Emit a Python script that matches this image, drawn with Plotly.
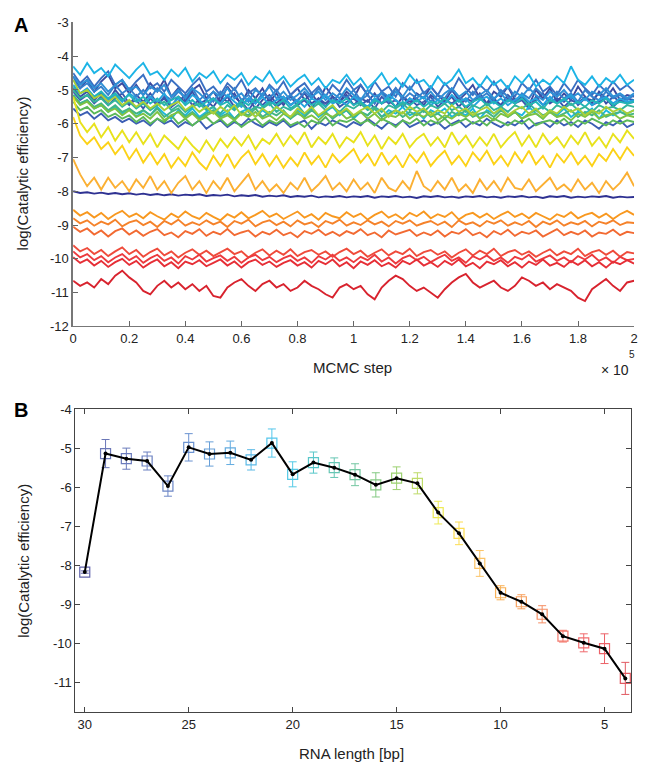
import plotly.graph_objects as go

# ---------------- data ----------------
lengths = [30, 29, 28, 27, 26, 25, 24, 23, 22, 21, 20, 19, 18, 17, 16, 15, 14, 13, 12, 11, 10, 9, 8, 7, 6, 5, 4]
b_mean = [-8.17, -5.14, -5.27, -5.33, -5.97, -4.98, -5.15, -5.12, -5.30, -4.87, -5.67, -5.37, -5.50, -5.68,
          -5.94, -5.77, -5.90, -6.65, -7.18, -7.95, -8.70, -8.93, -9.25, -9.81, -9.98, -10.13, -10.89]
b_err = [0.03, 0.36, 0.27, 0.23, 0.26, 0.35, 0.31, 0.30, 0.26, 0.36, 0.32, 0.27, 0.25, 0.28,
         0.31, 0.29, 0.27, 0.29, 0.29, 0.33, 0.18, 0.18, 0.22, 0.15, 0.23, 0.38, 0.41]
colors = ['#2e3192', '#3a4aa0', '#3a50a6', '#3b57ad', '#3c5fb4', '#3a6fc2', '#3680cc', '#2f90d6', '#25a3de',
          '#1cb4e6', '#1bb8de', '#22b5b8', '#34b49b', '#45b583', '#5bb85a', '#7cc242', '#a9cf38', '#e8e21c',
          '#fcd217', '#fbb033', '#f8981f', '#f5822a', '#f26a32', '#ef4b3b', '#ec3a3e', '#e62e36', '#d8232e']

mcmc_steps = [0, 2500, 5000, 7500, 10000, 12500, 15000, 17500, 20000, 22500,
              25000, 27500, 30000, 32500, 35000, 37500, 40000, 42500, 45000, 47500,
              50000, 52500, 55000, 57500, 60000, 62500, 65000, 67500, 70000, 72500,
              75000, 77500, 80000, 82500, 85000, 87500, 90000, 92500, 95000, 97500,
              100000, 102500, 105000, 107500, 110000, 112500, 115000, 117500, 120000, 122500,
              125000, 127500, 130000, 132500, 135000, 137500, 140000, 142500, 145000, 147500,
              150000, 152500, 155000, 157500, 160000, 162500, 165000, 167500, 170000, 172500,
              175000, 177500, 180000, 182500, 185000, 187500, 190000, 192500, 195000, 197500,
              200000]

trace_30 = [-8.00,-8.05,-8.03,-8.07,-8.04,-8.08,-8.05,-8.09,-8.06,-8.10,
            -8.07,-8.11,-8.08,-8.12,-8.09,-8.13,-8.10,-8.12,-8.09,-8.14,
            -8.11,-8.13,-8.10,-8.15,-8.12,-8.14,-8.11,-8.16,-8.13,-8.15,
            -8.12,-8.17,-8.14,-8.16,-8.13,-8.18,-8.15,-8.17,-8.14,-8.18,
            -8.15,-8.17,-8.14,-8.19,-8.15,-8.17,-8.14,-8.18,-8.16,-8.20,
            -8.15,-8.17,-8.14,-8.18,-8.16,-8.19,-8.15,-8.17,-8.14,-8.18,
            -8.16,-8.19,-8.15,-8.17,-8.14,-8.18,-8.16,-8.20,-8.15,-8.17,
            -8.14,-8.19,-8.16,-8.18,-8.15,-8.17,-8.14,-8.19,-8.16,-8.18,-8.17]
trace_29 = [-4.60,-4.95,-4.70,-5.05,-4.75,-4.55,-4.95,-4.80,-5.10,-4.85,
            -5.15,-4.80,-5.05,-4.70,-5.20,-4.95,-5.30,-5.00,-4.85,-5.25,
            -5.05,-5.35,-4.90,-5.20,-5.40,-5.00,-5.25,-4.95,-5.35,-5.10,
            -5.45,-5.15,-4.95,-5.30,-5.10,-5.40,-4.90,-5.20,-5.35,-5.05,
            -5.25,-4.85,-5.15,-5.40,-5.05,-5.30,-4.95,-5.20,-5.45,-5.10,
            -5.25,-4.90,-5.15,-5.35,-5.00,-5.30,-5.10,-4.85,-5.25,-5.40,
            -5.05,-5.20,-4.90,-5.30,-5.15,-5.45,-5.00,-5.25,-4.95,-5.35,
            -5.10,-5.30,-4.90,-5.20,-5.40,-5.05,-5.25,-4.95,-5.30,-5.15,-5.20]
trace_28 = [-4.95,-5.20,-5.05,-5.30,-5.10,-5.35,-5.00,-5.25,-5.45,-5.15,
            -5.35,-5.10,-5.40,-5.25,-5.50,-5.20,-5.35,-5.05,-5.40,-5.30,
            -5.50,-5.20,-5.35,-5.10,-5.45,-5.25,-5.55,-5.30,-5.15,-5.40,
            -5.20,-5.45,-5.30,-5.10,-5.40,-5.25,-5.50,-5.20,-5.35,-5.15,
            -5.45,-5.25,-5.35,-5.10,-5.40,-5.30,-5.50,-5.20,-5.35,-5.25,
            -5.45,-5.15,-5.30,-5.40,-5.20,-5.50,-5.25,-5.35,-5.10,-5.40,
            -5.25,-5.45,-5.15,-5.35,-5.20,-5.50,-5.30,-5.10,-5.40,-5.25,
            -5.35,-5.15,-5.45,-5.25,-5.30,-5.10,-5.40,-5.20,-5.35,-5.25,-5.30]
trace_27 = [-5.05,-5.30,-5.15,-5.40,-5.20,-5.45,-5.25,-5.10,-5.40,-5.30,
            -5.55,-5.25,-5.45,-5.20,-5.50,-5.35,-5.15,-5.45,-5.30,-5.55,
            -5.25,-5.40,-5.20,-5.50,-5.35,-5.60,-5.30,-5.45,-5.25,-5.50,
            -5.35,-5.20,-5.45,-5.30,-5.55,-5.25,-5.40,-5.20,-5.50,-5.35,
            -5.25,-5.45,-5.30,-5.55,-5.20,-5.40,-5.30,-5.50,-5.25,-5.45,
            -5.35,-5.20,-5.50,-5.30,-5.40,-5.25,-5.55,-5.35,-5.20,-5.45,
            -5.30,-5.50,-5.25,-5.40,-5.30,-5.55,-5.20,-5.45,-5.35,-5.25,
            -5.50,-5.30,-5.40,-5.20,-5.45,-5.35,-5.25,-5.50,-5.30,-5.40,-5.35]
trace_26 = [-5.55,-5.75,-5.65,-5.85,-5.70,-5.90,-5.80,-5.95,-5.85,-6.00,
            -5.90,-6.05,-5.85,-6.00,-5.90,-6.10,-5.95,-6.05,-5.90,-6.15,
            -6.00,-5.90,-6.10,-5.95,-6.05,-5.85,-6.00,-6.10,-5.95,-6.05,
            -5.90,-6.10,-6.00,-5.90,-6.15,-5.95,-6.05,-5.90,-6.00,-6.10,
            -5.95,-6.05,-5.85,-6.00,-6.15,-5.95,-6.05,-5.90,-6.10,-6.00,
            -5.90,-6.05,-5.95,-6.15,-6.00,-5.90,-6.10,-5.95,-6.05,-5.85,
            -6.00,-6.10,-5.95,-6.05,-5.90,-6.15,-6.00,-5.95,-6.10,-5.90,
            -6.05,-5.95,-6.10,-5.90,-6.00,-6.15,-5.95,-6.05,-5.90,-6.10,-6.00]
trace_25 = [-4.50,-4.80,-4.60,-4.90,-4.65,-4.45,-4.85,-4.70,-5.00,-4.75,
            -4.55,-4.95,-4.80,-5.05,-4.70,-4.90,-5.10,-4.85,-4.65,-5.05,
            -4.90,-5.15,-4.80,-5.00,-4.70,-5.10,-4.95,-5.20,-4.85,-5.05,
            -4.75,-5.15,-4.95,-4.80,-5.10,-4.90,-5.20,-4.85,-5.05,-4.70,
            -5.00,-4.85,-5.15,-4.75,-5.05,-4.90,-5.20,-4.80,-5.00,-4.70,
            -5.10,-4.90,-5.15,-4.80,-5.05,-4.65,-4.95,-5.15,-4.85,-5.05,
            -4.75,-5.10,-4.90,-5.20,-4.80,-5.00,-4.70,-5.05,-4.90,-5.15,
            -4.80,-5.05,-4.70,-4.95,-5.15,-4.85,-5.05,-4.75,-5.00,-4.85,-5.05]
trace_24 = [-4.70,-4.95,-4.80,-5.05,-4.90,-5.15,-4.85,-5.10,-4.95,-5.20,
            -5.00,-5.25,-4.95,-5.15,-5.30,-5.05,-5.20,-4.95,-5.30,-5.10,
            -5.35,-5.05,-5.20,-4.95,-5.30,-5.15,-5.40,-5.10,-5.25,-5.00,
            -5.30,-5.15,-5.35,-5.05,-5.25,-4.95,-5.20,-5.35,-5.10,-5.25,
            -5.00,-5.30,-5.15,-5.40,-5.05,-5.20,-4.95,-5.30,-5.10,-5.25,
            -5.05,-5.35,-5.15,-5.25,-4.95,-5.20,-5.35,-5.05,-5.25,-5.10,
            -5.30,-5.00,-5.20,-5.40,-5.10,-5.25,-4.95,-5.15,-5.30,-5.05,
            -5.25,-5.10,-5.35,-5.00,-5.20,-5.30,-5.05,-5.25,-5.15,-5.30,-5.15]
trace_23 = [-4.60,-4.85,-4.70,-4.95,-4.80,-5.05,-4.85,-4.70,-5.00,-4.90,
            -5.15,-4.90,-5.05,-4.85,-5.20,-5.00,-5.25,-4.95,-5.10,-5.30,
            -5.05,-5.20,-4.95,-5.25,-5.10,-5.35,-5.00,-5.15,-4.90,-5.25,
            -5.05,-5.30,-5.15,-4.95,-5.20,-5.05,-5.30,-5.10,-5.25,-4.95,
            -5.15,-5.30,-5.00,-5.20,-5.10,-5.35,-5.05,-5.20,-4.90,-5.15,
            -5.25,-5.05,-5.30,-5.10,-4.95,-5.20,-5.05,-5.30,-5.15,-5.00,
            -5.25,-5.10,-5.35,-5.05,-5.20,-4.95,-5.15,-5.30,-5.05,-5.20,
            -5.00,-5.25,-5.10,-5.30,-5.05,-5.15,-4.95,-5.20,-5.10,-5.25,-5.10]
trace_22 = [-4.85,-5.10,-4.95,-5.20,-5.05,-5.30,-5.15,-5.35,-5.10,-5.25,
            -5.40,-5.20,-5.35,-5.10,-5.45,-5.25,-5.40,-5.15,-5.30,-5.50,
            -5.25,-5.40,-5.15,-5.35,-5.50,-5.25,-5.40,-5.20,-5.45,-5.30,
            -5.20,-5.45,-5.30,-5.50,-5.25,-5.35,-5.15,-5.40,-5.30,-5.45,
            -5.20,-5.35,-5.50,-5.25,-5.40,-5.15,-5.30,-5.45,-5.25,-5.35,
            -5.20,-5.45,-5.30,-5.40,-5.15,-5.35,-5.25,-5.50,-5.30,-5.20,
            -5.40,-5.25,-5.45,-5.30,-5.15,-5.35,-5.25,-5.45,-5.20,-5.40,
            -5.30,-5.15,-5.40,-5.25,-5.45,-5.30,-5.20,-5.40,-5.25,-5.35,-5.30]
trace_21 = [-4.30,-4.55,-4.20,-4.50,-4.35,-4.60,-4.25,-4.45,-4.65,-4.40,
            -4.20,-4.55,-4.45,-4.70,-4.40,-4.60,-4.35,-4.75,-4.50,-4.65,
            -4.45,-4.80,-4.55,-4.70,-4.50,-4.85,-4.60,-4.75,-4.45,-4.80,
            -4.60,-4.90,-4.70,-4.55,-4.85,-4.65,-4.95,-4.70,-4.80,-4.55,
            -4.85,-4.65,-4.95,-4.75,-4.50,-4.85,-4.65,-4.90,-4.55,-4.80,
            -4.70,-4.95,-4.60,-4.85,-4.70,-4.40,-4.80,-4.65,-4.90,-4.60,
            -4.85,-4.70,-4.95,-4.60,-4.80,-4.55,-4.90,-4.70,-4.85,-4.60,
            -4.80,-4.30,-4.70,-4.85,-4.60,-4.90,-4.65,-4.80,-4.55,-4.85,-4.70]
trace_20 = [-5.15,-5.40,-5.30,-5.55,-5.45,-5.65,-5.50,-5.70,-5.55,-5.80,
            -5.60,-5.75,-5.50,-5.70,-5.85,-5.60,-5.75,-5.55,-5.80,-5.65,
            -5.50,-5.75,-5.60,-5.85,-5.65,-5.55,-5.80,-5.60,-5.75,-5.50,
            -5.70,-5.85,-5.60,-5.75,-5.55,-5.80,-5.65,-5.50,-5.75,-5.60,
            -5.85,-5.65,-5.75,-5.55,-5.80,-5.60,-5.70,-5.50,-5.75,-5.65,
            -5.85,-5.60,-5.70,-5.55,-5.80,-5.65,-5.75,-5.55,-5.85,-5.60,
            -5.70,-5.55,-5.80,-5.65,-5.75,-5.50,-5.70,-5.85,-5.60,-5.75,
            -5.55,-5.80,-5.65,-5.70,-5.55,-5.85,-5.60,-5.75,-5.65,-5.70,-5.60]
trace_19 = [-4.90,-5.10,-5.00,-5.20,-5.05,-5.25,-5.10,-5.30,-5.15,-5.35,
            -5.20,-5.40,-5.25,-5.45,-5.30,-5.20,-5.45,-5.30,-5.50,-5.35,
            -5.25,-5.45,-5.35,-5.55,-5.30,-5.45,-5.25,-5.50,-5.35,-5.45,
            -5.30,-5.55,-5.40,-5.25,-5.45,-5.35,-5.50,-5.30,-5.40,-5.25,
            -5.45,-5.35,-5.55,-5.30,-5.40,-5.25,-5.50,-5.35,-5.45,-5.30,
            -5.50,-5.35,-5.40,-5.25,-5.45,-5.30,-5.50,-5.35,-5.25,-5.45,
            -5.35,-5.50,-5.30,-5.40,-5.25,-5.45,-5.35,-5.55,-5.30,-5.40,
            -5.25,-5.45,-5.35,-5.50,-5.30,-5.40,-5.25,-5.45,-5.35,-5.40,-5.35]
trace_18 = [-5.00,-5.25,-5.15,-5.35,-5.25,-5.45,-5.30,-5.50,-5.35,-5.55,
            -5.40,-5.60,-5.45,-5.35,-5.60,-5.45,-5.65,-5.50,-5.40,-5.60,
            -5.50,-5.70,-5.45,-5.60,-5.40,-5.65,-5.50,-5.55,-5.40,-5.65,
            -5.50,-5.60,-5.45,-5.70,-5.55,-5.40,-5.60,-5.50,-5.65,-5.45,
            -5.55,-5.40,-5.60,-5.50,-5.65,-5.45,-5.55,-5.40,-5.60,-5.50,
            -5.65,-5.45,-5.55,-5.40,-5.60,-5.50,-5.65,-5.45,-5.55,-5.40,
            -5.60,-5.50,-5.65,-5.45,-5.55,-5.40,-5.60,-5.50,-5.65,-5.45,
            -5.55,-5.40,-5.60,-5.50,-5.65,-5.45,-5.55,-5.50,-5.60,-5.45,-5.50]
trace_17 = [-5.15,-5.40,-5.30,-5.50,-5.40,-5.60,-5.45,-5.65,-5.55,-5.70,
            -5.60,-5.75,-5.55,-5.80,-5.65,-5.55,-5.80,-5.65,-5.85,-5.70,
            -5.60,-5.80,-5.70,-5.85,-5.65,-5.75,-5.55,-5.80,-5.65,-5.75,
            -5.60,-5.85,-5.70,-5.80,-5.60,-5.75,-5.65,-5.85,-5.70,-5.60,
            -5.80,-5.65,-5.75,-5.55,-5.80,-5.70,-5.60,-5.80,-5.65,-5.75,
            -5.60,-5.80,-5.70,-5.85,-5.65,-5.75,-5.60,-5.80,-5.70,-5.65,
            -5.80,-5.60,-5.75,-5.65,-5.85,-5.70,-5.60,-5.75,-5.65,-5.80,
            -5.70,-5.60,-5.80,-5.65,-5.75,-5.60,-5.80,-5.70,-5.65,-5.75,-5.70]
trace_16 = [-5.35,-5.60,-5.50,-5.70,-5.60,-5.80,-5.70,-5.85,-5.75,-5.95,
            -5.80,-6.00,-5.85,-5.95,-5.75,-6.00,-5.85,-6.05,-5.90,-5.80,
            -6.00,-5.85,-6.05,-5.90,-6.10,-5.95,-5.85,-6.05,-5.90,-6.00,
            -5.85,-6.05,-5.95,-6.10,-5.90,-6.00,-5.80,-6.05,-5.90,-5.95,
            -5.85,-6.00,-5.90,-6.05,-5.85,-5.95,-6.10,-5.90,-6.00,-5.85,
            -6.05,-5.90,-6.00,-5.85,-6.05,-5.95,-5.85,-6.00,-5.90,-6.05,
            -5.85,-5.95,-6.05,-5.90,-6.00,-5.85,-6.05,-5.95,-5.90,-6.00,
            -5.85,-6.05,-5.90,-6.00,-5.85,-5.95,-6.05,-5.90,-6.00,-5.90,-5.95]
trace_15 = [-5.20,-5.45,-5.35,-5.55,-5.45,-5.65,-5.55,-5.75,-5.60,-5.80,
            -5.70,-5.85,-5.65,-5.90,-5.75,-5.65,-5.85,-5.70,-5.90,-5.75,
            -5.65,-5.85,-5.75,-5.90,-5.70,-5.80,-5.65,-5.85,-5.75,-5.90,
            -5.70,-5.80,-5.65,-5.85,-5.75,-5.90,-5.70,-5.80,-5.65,-5.85,
            -5.75,-5.65,-5.85,-5.70,-5.90,-5.75,-5.80,-5.65,-5.85,-5.70,
            -5.80,-5.65,-5.90,-5.75,-5.85,-5.70,-5.80,-5.65,-5.85,-5.75,
            -5.90,-5.70,-5.80,-5.65,-5.85,-5.75,-5.70,-5.85,-5.65,-5.80,
            -5.75,-5.90,-5.70,-5.80,-5.65,-5.85,-5.75,-5.70,-5.85,-5.75,-5.80]
trace_14 = [-4.70,-5.10,-5.00,-5.25,-5.15,-5.35,-5.20,-5.45,-5.30,-5.50,
            -5.35,-5.55,-5.40,-5.60,-5.45,-5.35,-5.60,-5.45,-5.65,-5.50,
            -5.70,-5.50,-5.65,-5.45,-5.75,-5.60,-5.80,-5.55,-5.70,-5.50,
            -5.65,-5.80,-5.55,-5.70,-5.50,-5.75,-5.60,-5.45,-5.70,-5.55,
            -5.75,-5.60,-5.50,-5.70,-5.55,-5.80,-5.60,-5.70,-5.50,-5.65,
            -5.55,-5.75,-5.60,-5.70,-5.45,-5.65,-5.55,-5.75,-5.60,-5.50,
            -5.70,-5.55,-5.75,-5.60,-5.50,-5.70,-5.55,-5.80,-5.60,-5.70,
            -5.50,-5.65,-5.55,-5.75,-5.60,-5.70,-5.50,-5.65,-5.55,-5.70,-5.60]
trace_13 = [-5.20,-5.95,-6.25,-6.00,-6.40,-6.10,-6.50,-6.20,-6.55,-6.25,
            -6.60,-6.30,-6.70,-6.35,-6.55,-6.75,-6.40,-6.65,-6.85,-6.50,
            -6.80,-6.45,-6.70,-6.40,-6.65,-6.35,-6.75,-6.45,-6.60,-6.30,
            -6.65,-6.35,-6.60,-6.25,-6.70,-6.40,-6.60,-6.30,-6.70,-6.40,
            -6.55,-6.25,-6.65,-6.35,-6.75,-6.40,-6.60,-6.30,-6.70,-6.45,
            -6.30,-6.65,-6.40,-6.70,-6.25,-6.60,-6.35,-6.70,-6.40,-6.65,
            -6.30,-6.70,-6.45,-6.25,-6.65,-6.35,-6.70,-6.30,-6.60,-6.40,
            -6.70,-6.35,-6.60,-6.25,-6.65,-6.40,-6.70,-6.30,-6.55,-6.20,-6.45]
trace_12 = [-5.80,-6.35,-6.60,-6.40,-6.75,-6.55,-6.90,-6.65,-7.05,-6.75,
            -7.15,-6.85,-7.20,-6.90,-7.30,-7.00,-7.25,-6.85,-7.15,-7.35,
            -6.95,-7.25,-6.90,-7.30,-7.00,-6.80,-7.20,-6.90,-7.25,-6.95,
            -7.30,-7.00,-7.25,-6.85,-7.20,-6.95,-7.30,-6.90,-7.15,-6.95,
            -6.75,-7.15,-6.90,-7.25,-6.85,-7.20,-6.95,-7.30,-6.90,-7.15,
            -6.85,-7.25,-7.00,-6.80,-7.20,-6.95,-7.25,-6.85,-7.10,-6.80,
            -7.20,-6.95,-7.25,-6.85,-7.15,-6.80,-7.20,-6.95,-7.30,-6.90,
            -7.15,-6.85,-7.20,-6.95,-7.25,-6.90,-7.10,-6.75,-7.05,-6.70,-6.95]
trace_11 = [-7.05,-7.50,-7.85,-7.60,-7.95,-7.60,-7.90,-7.70,-8.00,-7.65,
            -7.90,-7.55,-7.95,-7.70,-8.05,-7.75,-7.55,-7.95,-7.70,-8.05,
            -7.70,-7.95,-7.60,-8.00,-7.75,-7.50,-7.95,-7.70,-8.00,-7.80,
            -8.05,-7.75,-7.95,-7.60,-8.00,-7.80,-7.55,-7.95,-7.75,-8.00,
            -7.65,-7.95,-7.75,-8.05,-7.60,-7.90,-8.00,-7.70,-7.95,-7.40,
            -7.85,-8.00,-7.70,-7.95,-7.60,-8.00,-7.80,-8.05,-7.65,-7.95,
            -7.70,-8.00,-7.60,-7.90,-7.95,-7.65,-8.00,-7.80,-7.60,-7.95,
            -7.80,-8.00,-7.65,-7.95,-7.75,-8.05,-7.70,-7.95,-7.75,-7.45,-7.85]
trace_10 = [-8.55,-8.72,-8.62,-8.78,-8.64,-8.82,-8.68,-8.58,-8.76,-8.66,
            -8.80,-8.62,-8.74,-8.84,-8.66,-8.78,-8.60,-8.74,-8.82,-8.64,
            -8.76,-8.86,-8.68,-8.78,-8.62,-8.80,-8.70,-8.58,-8.76,-8.66,
            -8.82,-8.70,-8.60,-8.78,-8.68,-8.84,-8.64,-8.74,-8.80,-8.62,
            -8.76,-8.66,-8.84,-8.70,-8.60,-8.78,-8.68,-8.82,-8.64,-8.74,
            -8.60,-8.80,-8.68,-8.76,-8.62,-8.84,-8.70,-8.64,-8.78,-8.66,
            -8.82,-8.70,-8.60,-8.76,-8.66,-8.80,-8.64,-8.74,-8.84,-8.68,
            -8.76,-8.62,-8.80,-8.70,-8.64,-8.78,-8.66,-8.82,-8.68,-8.58,-8.70]
trace_9 = [-8.80,-8.95,-8.86,-9.02,-8.90,-8.98,-8.84,-9.04,-8.92,-8.86,
           -9.00,-8.90,-9.06,-8.88,-8.98,-8.84,-9.02,-8.92,-9.00,-8.86,
           -8.98,-8.90,-9.06,-8.88,-8.96,-8.84,-9.04,-8.92,-8.86,-9.00,
           -8.90,-9.04,-8.86,-8.98,-8.92,-9.06,-8.88,-8.96,-8.84,-9.02,
           -8.92,-9.00,-8.86,-8.98,-8.90,-9.04,-8.88,-8.96,-8.86,-9.02,
           -8.94,-8.88,-9.00,-8.90,-9.06,-8.86,-8.98,-8.92,-9.04,-8.88,
           -8.96,-8.86,-9.02,-8.92,-9.00,-8.88,-9.06,-8.90,-8.98,-8.86,
           -9.02,-8.92,-8.98,-8.88,-9.04,-8.90,-8.96,-8.86,-9.00,-8.92,-8.94]
trace_8 = [-9.05,-9.20,-9.10,-9.28,-9.16,-9.34,-9.18,-9.10,-9.28,-9.16,
           -9.32,-9.20,-9.12,-9.30,-9.22,-9.36,-9.18,-9.26,-9.12,-9.32,
           -9.20,-9.28,-9.12,-9.30,-9.22,-9.16,-9.34,-9.20,-9.28,-9.14,
           -9.30,-9.22,-9.36,-9.18,-9.26,-9.14,-9.30,-9.20,-9.32,-9.18,
           -9.26,-9.12,-9.30,-9.22,-9.36,-9.16,-9.28,-9.20,-9.14,-9.32,
           -9.22,-9.30,-9.16,-9.34,-9.20,-9.26,-9.12,-9.30,-9.22,-9.36,
           -9.18,-9.28,-9.14,-9.32,-9.20,-9.26,-9.16,-9.34,-9.22,-9.12,
           -9.30,-9.20,-9.28,-9.16,-9.34,-9.22,-9.26,-9.14,-9.30,-9.20,-9.24]
trace_7 = [-9.60,-9.78,-9.68,-9.86,-9.74,-9.92,-9.78,-9.66,-9.86,-9.74,
           -9.94,-9.80,-9.70,-9.90,-9.78,-9.96,-9.82,-9.72,-9.88,-9.76,
           -9.92,-9.80,-9.70,-9.86,-9.78,-9.96,-9.82,-9.72,-9.90,-9.76,
           -9.88,-9.72,-9.92,-9.80,-9.74,-9.88,-9.78,-9.94,-9.80,-9.70,
           -9.86,-9.76,-9.94,-9.82,-9.72,-9.90,-9.78,-9.86,-9.70,-9.92,
           -9.80,-9.74,-9.88,-9.78,-9.96,-9.82,-9.72,-9.90,-9.76,-9.86,
           -9.70,-9.92,-9.80,-9.74,-9.88,-9.78,-9.94,-9.82,-9.72,-9.90,
           -9.78,-9.86,-9.70,-9.92,-9.80,-9.74,-9.88,-9.76,-9.94,-9.80,-9.84]
trace_6 = [-9.78,-9.96,-9.86,-10.04,-9.92,-10.10,-9.96,-9.86,-10.04,-9.92,
           -10.12,-9.98,-9.88,-10.06,-9.96,-10.14,-9.92,-10.02,-9.88,-10.08,
           -9.98,-9.90,-10.06,-9.94,-10.12,-9.96,-9.88,-10.04,-9.94,-10.10,
           -9.98,-9.90,-10.06,-9.96,-10.12,-9.92,-10.02,-9.88,-10.06,-9.96,
           -10.10,-9.94,-10.04,-9.88,-10.08,-9.96,-10.14,-9.98,-9.90,-10.04,
           -9.94,-10.10,-9.98,-9.88,-10.06,-9.96,-10.12,-9.92,-10.02,-9.90,
           -10.06,-9.96,-10.12,-9.94,-10.02,-9.88,-10.08,-9.98,-9.90,-10.06,
           -9.96,-10.10,-9.92,-10.02,-9.88,-10.06,-9.96,-10.12,-9.94,-10.04,-10.00]
trace_5 = [-9.95,-10.12,-10.02,-10.20,-10.06,-10.24,-10.10,-10.00,-10.18,-10.06,
           -10.26,-10.12,-10.02,-10.22,-10.10,-10.28,-10.08,-10.16,-10.04,-10.22,
           -10.12,-10.02,-10.20,-10.08,-10.26,-10.10,-10.02,-10.18,-10.08,-10.24,
           -10.12,-10.04,-10.20,-10.10,-10.26,-10.06,-10.16,-10.02,-10.22,-10.10,
           -10.28,-10.08,-10.18,-10.04,-10.22,-10.12,-10.26,-10.06,-10.16,-10.02,
           -10.20,-10.10,-10.24,-10.06,-10.18,-10.02,-10.22,-10.12,-10.28,-10.08,
           -10.16,-10.04,-10.22,-10.10,-10.26,-10.08,-10.18,-10.02,-10.20,-10.12,
           -10.24,-10.06,-10.18,-10.04,-10.22,-10.10,-10.26,-10.08,-10.16,-10.04,-10.14]
trace_4 = [-10.65,-10.80,-10.70,-10.85,-10.60,-10.75,-10.50,-10.35,-10.55,-10.70,
           -10.95,-11.05,-10.80,-10.65,-10.85,-10.70,-10.90,-10.75,-10.95,-10.80,
           -11.10,-11.15,-10.85,-10.70,-10.60,-10.80,-10.95,-10.75,-10.65,-10.85,
           -10.75,-10.95,-10.85,-10.65,-10.80,-10.90,-11.05,-11.15,-10.85,-10.75,
           -10.90,-10.80,-11.05,-11.20,-10.85,-10.65,-10.50,-10.60,-10.80,-10.95,
           -10.85,-11.00,-11.15,-10.90,-10.70,-10.55,-10.45,-10.70,-10.85,-10.75,
           -10.65,-10.85,-10.95,-10.80,-10.55,-10.65,-10.80,-10.70,-10.90,-10.75,
           -10.85,-10.95,-11.15,-11.25,-10.90,-10.75,-10.60,-10.80,-10.95,-10.70,-10.65]

a_xticks = [0, 20000, 40000, 60000, 80000, 100000, 120000, 140000, 160000, 180000, 200000]
a_xticktext = ['0', '0.2', '0.4', '0.6', '0.8', '1', '1.2', '1.4', '1.6', '1.8', '2']
a_yticks = [-3, -4, -5, -6, -7, -8, -9, -10, -11, -12]
a_yticktext = ['-3', '-4', '-5', '-6', '-7', '-8', '-9', '-10', '-11', '-12']
b_xticks = [30, 25, 20, 15, 10, 5]
b_yticks = [-4, -5, -6, -7, -8, -9, -10, -11]
b_yticktext = ['-4', '-5', '-6', '-7', '-8', '-9', '-10', '-11']

traces = [trace_30, trace_29, trace_28, trace_27, trace_26, trace_25, trace_24, trace_23, trace_22,
          trace_21, trace_20, trace_19, trace_18, trace_17, trace_16, trace_15, trace_14, trace_13,
          trace_12, trace_11, trace_10, trace_9, trace_8, trace_7, trace_6, trace_5, trace_4]

# ---------------- figure ----------------
W, H = 646, 771
fig = go.Figure()

for vals, col in zip(traces, colors):
    fig.add_trace(go.Scatter(x=mcmc_steps[:len(vals)], y=vals, mode='lines', xaxis='x', yaxis='y',
                             line=dict(color=col, width=1.9), showlegend=False, hoverinfo='skip'))

for L, m, e, col in zip(lengths, b_mean, b_err, colors):
    fig.add_trace(go.Scatter(x=[L], y=[m], mode='markers', xaxis='x2', yaxis='y2', opacity=0.75,
                             marker=dict(symbol='square-open', size=10, color=col, line=dict(width=1.2)),
                             error_y=dict(type='data', array=[e], color=col, thickness=1, width=4),
                             showlegend=False))

fig.add_trace(go.Scatter(x=lengths, y=b_mean, mode='lines+markers', xaxis='x2', yaxis='y2',
                         line=dict(color='black', width=2),
                         marker=dict(symbol='circle', size=4, color='black'), showlegend=False))

tickfont = dict(family='Liberation Sans, Arial, sans-serif', size=13, color='#222')


def px_x(p):
    return p / W


def px_y(p):
    return 1 - p / H


fig.update_layout(
    width=W, height=H, margin=dict(l=0, r=0, t=0, b=0),
    paper_bgcolor='white', plot_bgcolor='white',
    xaxis=dict(domain=[px_x(70), px_x(638)], range=[0, 200000], tickvals=a_xticks, ticktext=a_xticktext,
               ticks='inside', ticklen=5, tickcolor='#666', showline=True, linecolor='#777', linewidth=1,
               showgrid=False, zeroline=False, tickfont=tickfont, anchor='y', ticklabeloverflow='allow'),
    yaxis=dict(domain=[px_y(325.7), px_y(15.7)], range=[-12, -3], tickvals=a_yticks, ticktext=a_yticktext,
               ticks='inside', ticklen=5, tickcolor='#666', showline=True, linecolor='#777', linewidth=1.5,
               showgrid=False, zeroline=False, tickfont=tickfont, anchor='x'),
    xaxis2=dict(domain=[px_x(72.3), px_x(635)], range=[30.45, 3.72], tickvals=b_xticks,
                ticks='inside', ticklen=5, tickcolor='#444', showline=True, linecolor='#444', linewidth=1,
                mirror='allticks', showgrid=False, zeroline=False, tickfont=tickfont, anchor='y2'),
    yaxis2=dict(domain=[px_y(719), px_y(410)], range=[-11.75, -4], tickvals=b_yticks, ticktext=b_yticktext,
                ticks='inside', ticklen=5, tickcolor='#444', showline=True, linecolor='#444', linewidth=1,
                mirror='allticks', showgrid=False, zeroline=False, tickfont=tickfont, anchor='x2'),
)

labfont = dict(family='Liberation Sans, Arial, sans-serif', size=15, color='#222')
ann = [
    dict(text='<b>A</b>', x=px_x(17), y=px_y(18), font=dict(family='Liberation Sans, Arial', size=20, color='black')),
    dict(text='<b>B</b>', x=px_x(17), y=px_y(411), font=dict(family='Liberation Sans, Arial', size=20, color='black')),
    dict(text='log(Catalytic efficiency)', x=px_x(19), y=px_y(170), textangle=-90, font=labfont),
    dict(text='log(Catalytic efficiency)', x=px_x(19), y=px_y(565), textangle=-90, font=labfont),
    dict(text='MCMC step', x=px_x(353), y=px_y(368), font=labfont),
    dict(text='RNA length [bp]', x=px_x(352), y=px_y(761), font=labfont),
    dict(text='× 10', x=px_x(619), y=px_y(370), font=dict(family='Liberation Sans, Arial', size=14, color='#222')),
    dict(text='5', x=px_x(636), y=px_y(354), font=dict(family='Liberation Sans, Arial', size=10, color='#222')),
]
for a in ann:
    a.update(xref='paper', yref='paper', showarrow=False, xanchor='center', yanchor='middle')
fig.update_layout(annotations=ann)

# remove the default page margin so the figure sits at the window's top-left corner
fig.write_html('out.html', config={'displayModeBar': False},
               post_script="document.body.style.margin='0';document.body.style.overflow='hidden';")
